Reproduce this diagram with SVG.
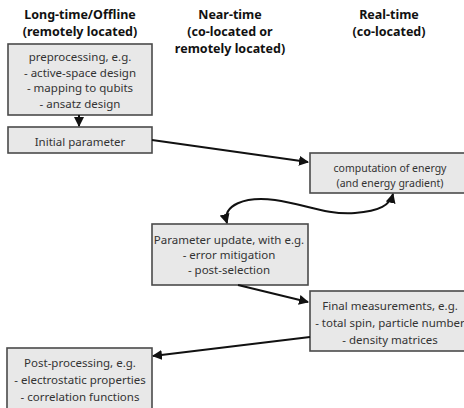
<svg xmlns="http://www.w3.org/2000/svg" width="464" height="408" viewBox="0 0 464 408">
<style>
.h{font-family:"Noto Sans","Liberation Sans",sans-serif;font-weight:bold;font-size:12.5px;fill:#111;text-anchor:middle}
.t{font-family:"Noto Sans","Liberation Sans",sans-serif;font-size:11.5px;fill:#333;text-anchor:middle}
.s{font-size:10.5px}
.b{fill:#e8e8e8;stroke:#4a4a4a;stroke-width:1.6}
.c{fill:none;stroke:#111;stroke-width:2}
</style>
<defs>
<marker id="ah" viewBox="0 0 10 10" refX="9" refY="5" markerWidth="5" markerHeight="5" orient="auto-start-reverse">
<path d="M0,0 L10,5 L0,10 z" fill="#111"/>
</marker>
</defs>
<rect width="464" height="408" fill="#fff"/>
<g id="headers">
<text class="h" x="80" y="19">Long-time/Offline</text>
<text class="h" x="80" y="36">(remotely located)</text>
<text class="h" x="230" y="19">Near-time</text>
<text class="h" x="230" y="36">(co-located or</text>
<text class="h" x="230" y="53">remotely located)</text>
<text class="h" x="389" y="19">Real-time</text>
<text class="h" x="389" y="36">(co-located)</text>
</g>
<g id="preprocessing">
<rect class="b" x="8" y="44" width="144" height="71"/>
<text class="t" x="80" y="61">preprocessing, e.g.</text>
<text class="t" x="80" y="76.5">- active-space design</text>
<text class="t" x="80" y="92">- mapping to qubits</text>
<text class="t" x="80" y="108">- ansatz design</text>
</g>
<g id="initial">
<rect class="b" x="8" y="127" width="144" height="26"/>
<text class="t" x="80" y="146">Initial parameter</text>
</g>
<g id="energy">
<rect class="b" x="310" y="153" width="156" height="40"/>
<text class="t s" x="390" y="171.5">computation of energy</text>
<text class="t s" x="390" y="186.5">(and energy gradient)</text>
</g>
<g id="update">
<rect class="b" x="152" y="224" width="156" height="61"/>
<text class="t" x="229" y="244">Parameter update, with e.g.</text>
<text class="t" x="229" y="259">- error mitigation</text>
<text class="t" x="229" y="274">- post-selection</text>
</g>
<g id="final">
<rect class="b" x="310" y="291" width="158" height="60"/>
<text class="t" x="390" y="310">Final measurements, e.g.</text>
<text class="t" x="390" y="327">- total spin, particle number</text>
<text class="t" x="390" y="344">- density matrices</text>
</g>
<g id="postprocessing">
<rect class="b" x="7" y="348" width="145" height="64"/>
<text class="t" x="80" y="367">Post-processing, e.g.</text>
<text class="t" x="80" y="384">- electrostatic properties</text>
<text class="t" x="80" y="401">- correlation functions</text>
</g>
<g id="connectors">
<path class="c" d="M79,115 L79,126" marker-end="url(#ah)"/>
<path class="c" d="M152,140 L308,162" marker-end="url(#ah)"/>
<path class="c" d="M227,223 C222,205 245,196 275,200 C305,204 325,215 355,213 C380,211 390,205 393,194" marker-start="url(#ah)" marker-end="url(#ah)"/>
<path class="c" d="M238,285 L308,302" marker-end="url(#ah)"/>
<path class="c" d="M310,337 L153,356" marker-end="url(#ah)"/>
</g>
</svg>
